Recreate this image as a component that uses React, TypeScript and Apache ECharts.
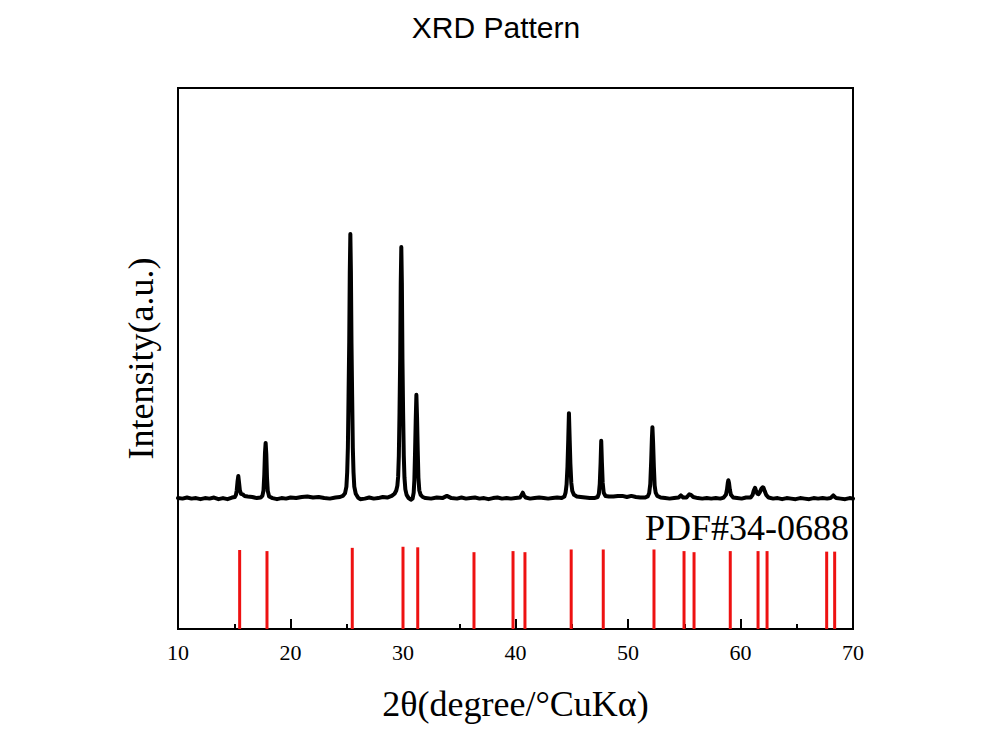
import React, { useEffect, useRef } from "react";
import * as echarts from "echarts";

// Measured diffraction pattern: 2θ (degrees) and intensity (arbitrary units)
const patternAngles = [
  10.0, 10.4, 10.8, 11.2, 11.6, 12.0, 12.4, 12.8, 13.2, 13.6, 14.0, 14.4, 14.8,
  15.05, 15.15, 15.22, 15.29, 15.36, 15.43, 15.5, 15.6, 15.75, 15.9, 16.2, 16.6, 17.0, 17.35,
  17.5, 17.6, 17.67, 17.73, 17.79, 17.85, 17.91, 17.98, 18.1, 18.4, 18.8, 19.2, 19.6, 20.0,
  20.5, 21.0, 21.5, 22.0, 22.5, 23.0, 23.5, 24.0, 24.4,
  24.65, 24.85, 24.97, 25.04, 25.1, 25.16, 25.22, 25.27, 25.32, 25.37, 25.42, 25.48, 25.54,
  25.6, 25.67, 25.8, 26.0, 26.2, 26.6, 27.0, 27.4, 27.8, 28.2, 28.6,
  29.0, 29.25, 29.4, 29.5, 29.57, 29.63, 29.69, 29.75, 29.8, 29.85, 29.9, 29.95, 30.01,
  30.07, 30.13, 30.21, 30.32, 30.5, 30.7, 30.85,
  30.95, 31.01, 31.07, 31.13, 31.19, 31.25, 31.31, 31.37, 31.45, 31.57, 31.75,
  32.0, 32.5, 33.0, 33.5, 33.9, 34.3, 34.8, 35.2, 35.6, 36.0, 36.4, 36.8, 37.2, 37.6,
  38.0, 38.4, 38.8, 39.2, 39.6, 40.0, 40.4, 40.55, 40.65, 40.75, 40.9, 41.3, 41.7, 42.1,
  42.5, 42.9, 43.3, 43.7, 44.1, 44.35,
  44.45, 44.54, 44.62, 44.69, 44.75, 44.81, 44.88, 44.96, 45.05, 45.2, 45.45, 45.8, 46.2,
  46.6, 47.0, 47.3,
  47.41, 47.49, 47.56, 47.62, 47.68, 47.75, 47.84, 48.0, 48.3, 48.7, 49.1, 49.5, 49.9,
  50.3, 50.7, 51.1, 51.5, 51.75,
  51.88, 51.98, 52.06, 52.12, 52.17, 52.23, 52.3, 52.37, 52.46, 52.6, 52.9, 53.3, 53.7,
  54.1, 54.5, 54.7, 54.9, 55.2, 55.45, 55.6, 55.8, 56.2, 56.6, 57.0, 57.4, 57.8, 58.2, 58.5,
  58.7, 58.8, 58.87, 58.92, 58.98, 59.05, 59.15, 59.35, 59.7, 60.1, 60.5, 60.9,
  61.08, 61.18, 61.29, 61.38, 61.5, 61.6, 61.72, 61.85, 61.97, 62.05, 62.15, 62.28, 62.5,
  62.9, 63.3, 63.7, 64.1, 64.5, 64.9, 65.3, 65.7, 66.1, 66.5, 66.9, 67.3, 67.7, 68.0,
  68.25, 68.5, 68.9, 69.3, 69.7, 70.0,
];

const patternIntensity = [
  24.2, 24.1, 24.3, 24.1, 24.2, 24.0, 24.2, 24.1, 24.3, 24.0, 24.2, 24.0, 24.3,
  24.4, 24.8, 25.6, 27.2, 28.3, 27.0, 25.6, 25.0, 24.9, 24.6, 24.5, 24.4, 24.2, 24.3,
  24.6, 25.6, 28.5, 32.5, 34.4, 32.3, 28.0, 25.5, 24.5, 24.2, 24.0, 24.2, 24.1, 24.3,
  24.2, 24.4, 24.5, 24.3, 24.4, 24.2, 24.1, 24.3, 24.4,
  24.6, 25.1, 26.3, 29.0, 33.5, 43.0, 53.0, 66.0, 73.0, 66.0, 53.0, 43.0, 33.5,
  29.0, 26.3, 25.0, 24.3, 24.0, 24.1, 24.3, 24.1, 24.2, 24.4, 24.3,
  24.6, 25.0, 25.6, 26.5, 28.2, 32.0, 40.0, 50.0, 64.0, 70.6, 64.0, 50.0, 40.0,
  32.0, 28.0, 25.8, 24.8, 24.2, 23.9, 24.1,
  25.2, 27.5, 32.5, 38.5, 43.3, 39.0, 33.0, 28.0, 25.6, 24.8, 24.4,
  24.2, 24.1, 24.3, 24.2, 24.6, 24.2, 24.1, 24.3, 24.1, 24.2, 24.3, 24.1, 24.2, 24.0,
  24.2, 24.3, 24.1, 24.2, 24.1, 24.2, 24.3, 24.8, 25.2, 24.7, 24.3, 24.1, 24.2, 24.3,
  24.2, 24.1, 24.2, 24.3, 24.2, 24.5,
  25.2, 26.7, 30.0, 35.0, 39.9, 35.5, 30.5, 27.0, 25.5, 24.8, 24.5, 24.4, 24.3,
  24.2, 24.2, 24.4,
  25.0, 26.8, 30.5, 34.8, 30.8, 27.0, 25.2, 24.6, 24.5, 24.5, 24.6, 24.6, 24.4,
  24.6, 24.4, 24.3, 24.3, 24.5,
  25.1, 26.8, 31.0, 35.0, 37.3, 34.5, 30.0, 26.5, 25.2, 24.6, 24.3, 24.2, 24.1,
  24.2, 24.3, 24.7, 24.3, 24.3, 24.9, 24.8, 24.4, 24.2, 24.1, 24.2, 24.1, 24.2, 24.1, 24.3,
  24.8, 25.8, 27.0, 27.5, 27.0, 25.8, 24.8, 24.3, 24.2, 24.1, 24.3, 24.3,
  24.8, 25.6, 26.1, 25.6, 25.0, 24.9, 25.3, 25.9, 26.2, 26.1, 25.5, 24.8, 24.3,
  24.1, 24.2, 24.0, 24.2, 24.1, 24.0, 24.2, 24.1, 24.0, 24.2, 24.1, 24.2, 24.1, 24.2,
  24.7, 24.2, 24.1, 24.0, 24.2, 24.1,
];

// Reference card PDF#34-0688: line positions (2θ) and stick heights
const refAngles = [
  15.48, 17.91, 25.49, 30.0, 31.31, 36.31, 39.78, 40.84, 44.95, 47.8, 52.31, 54.98,
  55.87, 59.09, 61.56, 62.36, 67.66, 68.37,
];
const refIntensity = [
  14.6, 14.4, 15.0, 15.2, 15.1, 14.2, 14.4, 14.2, 14.7, 14.7, 14.7, 14.4, 14.2, 14.4,
  14.4, 14.4, 14.3, 14.3,
];

const cardLabel = "PDF#34-0688";
const serif = "'Liberation Serif', 'Times New Roman', serif";

export default function App() {
  const ref = useRef<HTMLDivElement>(null);

  useEffect(() => {
    if (!ref.current) return;
    const chart = echarts.init(ref.current, null, { renderer: "svg" });

    const pattern = patternAngles.map((a, i) => [a, patternIntensity[i]]);
    const sticks = refAngles.map((a, i) => [a, refIntensity[i]]);

    chart.setOption({
      animation: false,
      backgroundColor: "#fff",
      title: {
        text: "XRD Pattern",
        left: "center",
        top: 7,
        textStyle: {
          fontFamily: "'Liberation Sans', Arial, sans-serif",
          fontSize: 30,
          fontWeight: "normal",
          color: "#000",
        },
      },
      grid: {
        left: 178,
        top: 88,
        width: 675,
        height: 541,
        show: true,
        borderColor: "#000",
        borderWidth: 2,
        backgroundColor: "transparent",
      },
      xAxis: {
        type: "value",
        min: 10,
        max: 70,
        interval: 10,
        name: "2θ(degree/°CuKα)",
        nameLocation: "middle",
        nameGap: 57,
        nameTextStyle: { fontFamily: serif, fontSize: 36, color: "#000" },
        axisLine: { show: true, onZero: false, lineStyle: { color: "#000", width: 2 } },
        axisTick: { show: true, inside: true, length: 10, lineStyle: { color: "#000", width: 2 } },
        minorTick: { show: true, splitNumber: 2, length: 5, lineStyle: { color: "#000", width: 2 } },
        axisLabel: { fontFamily: serif, fontSize: 22, color: "#000", margin: 12 },
        splitLine: { show: false },
      },
      yAxis: {
        type: "value",
        min: 0,
        max: 100,
        name: "Intensity(a.u.)",
        nameLocation: "middle",
        nameGap: 19,
        nameTextStyle: { fontFamily: serif, fontSize: 36, color: "#000" },
        axisLine: { show: false },
        axisTick: { show: false },
        axisLabel: { show: false },
        splitLine: { show: false },
      },
      graphic: [
        {
          type: "text",
          right: 992 - 849,
          top: 510,
          style: {
            text: cardLabel,
            font: `36px ${serif}`,
            fill: "#000",
          },
          z: 10,
        },
      ],
      series: [
        {
          type: "custom",
          data: sticks,
          encode: { x: 0, y: 1 },
          z: 2,
          renderItem: (_params: any, api: any) => {
            const top = api.coord([api.value(0), api.value(1)]);
            const base = api.coord([api.value(0), 0]);
            return {
              type: "line",
              shape: { x1: base[0], y1: base[1], x2: top[0], y2: top[1] },
              style: { stroke: "#ee1111", lineWidth: 3 },
            };
          },
        },
        {
          type: "line",
          data: pattern,
          showSymbol: false,
          smooth: false,
          z: 3,
          lineStyle: { color: "#000", width: 4, join: "round", cap: "round" },
        },
      ],
    });

    return () => chart.dispose();
  }, []);

  return (
    <div
      ref={ref}
      style={{ position: "fixed", left: 0, top: 0, width: 992, height: 756, background: "#fff" }}
    />
  );
}
